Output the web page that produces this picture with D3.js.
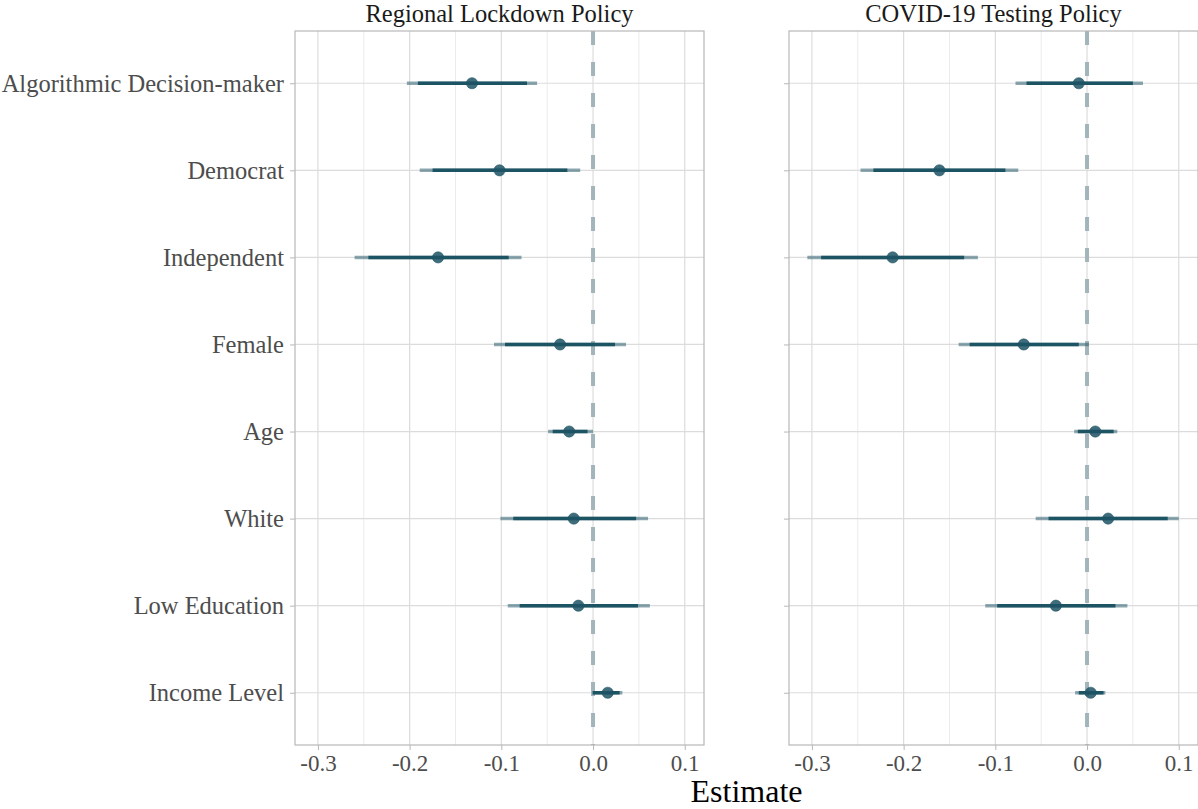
<!DOCTYPE html>
<html>
<head>
<meta charset="utf-8">
<script src="https://cdn.jsdelivr.net/npm/d3@7"></script>
<style>
  body { margin: 0; background: #fff; }
  svg { display: block; font-family: "Liberation Serif", "DejaVu Serif", serif; }
</style>
</head>
<body>
<div id="chart"></div>
<script>
// terms, top to bottom
const terms = ['Algorithmic Decision-maker', 'Democrat', 'Independent', 'Female', 'Age', 'White', 'Low Education', 'Income Level'];
const panels = ['Regional Lockdown Policy', 'COVID-19 Testing Policy'];
const xTicks = [-0.3, -0.2, -0.1, 0.0, 0.1];

// Regional Lockdown Policy
const lockdownEst   = [-0.132, -0.102, -0.169, -0.036, -0.026, -0.021, -0.016, 0.016];
const lockdownLo90  = [-0.191, -0.175, -0.245, -0.096, -0.044, -0.087, -0.080, 0.000];
const lockdownHi90  = [-0.072, -0.028, -0.092, 0.024, -0.006, 0.047, 0.049, 0.029];
const lockdownLo95  = [-0.203, -0.189, -0.260, -0.108, -0.049, -0.101, -0.093, -0.001];
const lockdownHi95  = [-0.061, -0.014, -0.078, 0.036, 0.000, 0.060, 0.062, 0.032];

// COVID-19 Testing Policy
const testingEst    = [-0.009, -0.161, -0.212, -0.069, 0.009, 0.023, -0.034, 0.004];
const testingLo90   = [-0.066, -0.233, -0.290, -0.128, -0.010, -0.042, -0.098, -0.009];
const testingHi90   = [0.050, -0.089, -0.134, -0.009, 0.029, 0.088, 0.031, 0.018];
const testingLo95   = [-0.078, -0.247, -0.305, -0.140, -0.014, -0.056, -0.111, -0.013];
const testingHi95   = [0.061, -0.075, -0.119, 0.002, 0.033, 0.100, 0.044, 0.020];

function rows(est, lo90, hi90, lo95, hi95) {
  return terms.map((t, i) => ({term: t, est: est[i], lo90: lo90[i], hi90: hi90[i], lo95: lo95[i], hi95: hi95[i]}));
}
const panelData = [
  rows(lockdownEst, lockdownLo90, lockdownHi90, lockdownLo95, lockdownHi95),
  rows(testingEst, testingLo90, testingHi90, testingLo95, testingHi95)
];

const width = 1198, height = 809;
const plotTop = 31, plotBottom = 745;
const panelX = [295, 789];
const panelW = 409;
const dark = '#1d5464';
const serif = '"Liberation Serif", "DejaVu Serif", serif';

const svg = d3.select('#chart').append('svg')
  .attr('width', width)
  .attr('height', height);

const y = d3.scalePoint()
  .domain(terms)
  .range([plotTop, plotBottom])
  .padding(0.6);

panelData.forEach((data, p) => {
  const x = d3.scaleLinear()
    .domain([-0.325, 0.121])
    .range([panelX[p], panelX[p] + panelW]);

  const g = svg.append('g');

  // minor grid
  g.selectAll('.minor')
    .data([-0.25, -0.15, -0.05, 0.05])
    .join('line')
    .attr('x1', d => x(d)).attr('x2', d => x(d))
    .attr('y1', plotTop).attr('y2', plotBottom)
    .attr('stroke', '#ebebeb').attr('stroke-width', 1);

  // major grid
  g.selectAll('.majorx')
    .data(xTicks)
    .join('line')
    .attr('x1', d => x(d)).attr('x2', d => x(d))
    .attr('y1', plotTop).attr('y2', plotBottom)
    .attr('stroke', '#dcdcdc').attr('stroke-width', 1.2);

  g.selectAll('.majory')
    .data(terms)
    .join('line')
    .attr('x1', panelX[p]).attr('x2', panelX[p] + panelW)
    .attr('y1', d => y(d)).attr('y2', d => y(d))
    .attr('stroke', '#dcdcdc').attr('stroke-width', 1.2);

  // zero reference line
  g.append('line')
    .attr('x1', x(0)).attr('x2', x(0))
    .attr('y1', plotTop).attr('y2', plotBottom)
    .attr('stroke', '#a3b5ba')
    .attr('stroke-width', 4)
    .attr('stroke-dasharray', '14,17');

  // 95% intervals
  g.selectAll('.ci95')
    .data(data)
    .join('line')
    .attr('x1', d => x(d.lo95)).attr('x2', d => x(d.hi95))
    .attr('y1', d => y(d.term)).attr('y2', d => y(d.term))
    .attr('stroke', dark).attr('stroke-opacity', 0.5)
    .attr('stroke-width', 3.5);

  // 90% intervals
  g.selectAll('.ci90')
    .data(data)
    .join('line')
    .attr('x1', d => x(d.lo90)).attr('x2', d => x(d.hi90))
    .attr('y1', d => y(d.term)).attr('y2', d => y(d.term))
    .attr('stroke', dark)
    .attr('stroke-width', 3.5);

  // estimates
  g.selectAll('circle')
    .data(data)
    .join('circle')
    .attr('cx', d => x(d.est))
    .attr('cy', d => y(d.term))
    .attr('r', 5.6)
    .attr('fill', dark)
    .attr('fill-opacity', 0.85)
    .attr('stroke', dark)
    .attr('stroke-opacity', 0.6)
    .attr('stroke-width', 1);

  // panel border
  g.append('rect')
    .attr('x', panelX[p]).attr('y', plotTop)
    .attr('width', panelW).attr('height', plotBottom - plotTop)
    .attr('fill', 'none')
    .attr('stroke', '#b8b8b8').attr('stroke-width', 1.2);

  // x axis
  const xAxis = g.append('g')
    .attr('transform', `translate(0, ${plotBottom})`)
    .call(d3.axisBottom(x).tickValues(xTicks).tickSize(5).tickPadding(5))
    .attr('font-family', serif);
  xAxis.select('.domain').remove();
  xAxis.selectAll('line').attr('stroke', '#b8b8b8');
  xAxis.selectAll('text')
    .attr('fill', '#4d4d4d')
    .style('font-size', '23px')
    .text(d => d3.format('.1f')(d).replace('−', '-'));

  // y axis, labels only on the first panel
  const yAxis = g.append('g')
    .attr('transform', `translate(${panelX[p]}, 0)`)
    .call(d3.axisLeft(y).tickSize(5).tickPadding(6))
    .attr('font-family', serif);
  yAxis.select('.domain').remove();
  yAxis.selectAll('line').attr('stroke', '#b8b8b8');
  if (p === 0) {
    yAxis.selectAll('text')
      .attr('fill', '#4d4d4d')
      .style('font-size', '24.5px');
  } else {
    yAxis.selectAll('text').remove();
  }

  // panel title
  svg.append('text')
    .attr('x', panelX[p] + panelW / 2)
    .attr('y', 22)
    .attr('text-anchor', 'middle')
    .attr('fill', '#1a1a1a')
    .style('font-size', '24.5px')
    .text(panels[p]);
});

// x-axis title
svg.append('text')
  .attr('x', (panelX[0] + panelX[1] + panelW) / 2)
  .attr('y', 802)
  .attr('text-anchor', 'middle')
  .attr('fill', '#000')
  .style('font-size', '32px')
  .text('Estimate');
</script>
</body>
</html>
